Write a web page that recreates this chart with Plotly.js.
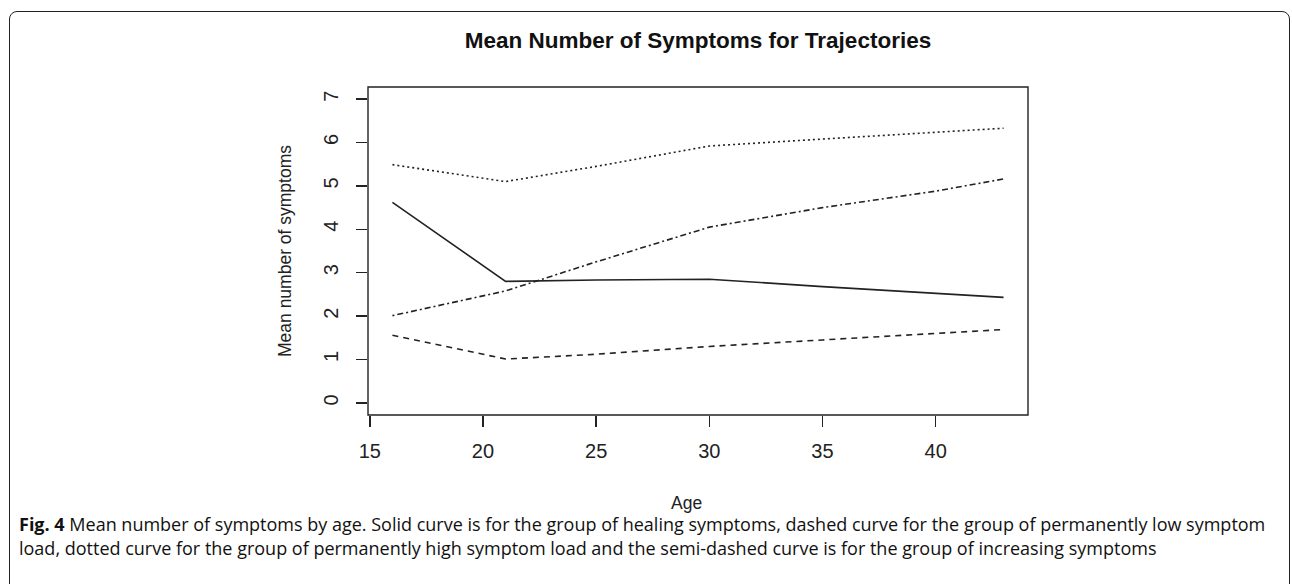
<!DOCTYPE html>
<html>
<head>
<meta charset="utf-8">
<script src="https://cdn.plot.ly/plotly-3.0.1.min.js"></script>
<style>
  html, body { margin: 0; padding: 0; background: #fff; }
  #wrap { position: relative; width: 1292px; height: 584px; overflow: hidden; }
  #chart { width: 1292px; height: 584px; }
  #frame { position: absolute; left: 9px; top: 11px; width: 1281px; height: 640px;
           border: 1.8px solid #222; border-radius: 8px; pointer-events: none; box-sizing: border-box; }
</style>
</head>
<body>
<div id="wrap">
  <div id="chart"></div>
  <div id="frame"></div>
</div>
<script>
// Ages at which the curves were read
const ages = [16, 21, 25, 30, 35, 40, 43];
// Mean number of symptoms per trajectory group
const healing    = [4.62, 2.80, 2.83, 2.85, 2.68, 2.53, 2.43];   // solid
const lowLoad    = [1.56, 1.01, 1.12, 1.30, 1.45, 1.60, 1.69];   // dashed
const highLoad   = [5.49, 5.10, 5.45, 5.92, 6.08, 6.24, 6.33];   // dotted
const increasing = [2.01, 2.58, 3.25, 4.05, 4.50, 4.88, 5.16];   // semi-dashed
const xTicks = [15, 20, 25, 30, 35, 40];
const yTicks = [0, 1, 2, 3, 4, 5, 6, 7];

const titleText = 'Mean Number of Symptoms for Trajectories';
const xTitle = 'Age';
const yTitle = 'Mean number of symptoms';
const caption1 = '<b>Fig. 4</b> Mean number of symptoms by age. Solid curve is for the group of healing symptoms, dashed curve for the group of permanently low symptom';
const caption2 = 'load, dotted curve for the group of permanently high symptom load and the semi-dashed curve is for the group of increasing symptoms';

// plot area in pixels
const L = 368, R = 1028, T = 87, B = 415, W = 1292, H = 584;
const px = x => (x - L) / (R - L);
const py = y => (B - y) / (B - T);

const lineCol = '#222';
function tr(y, dash) {
  return { x: ages, y: y, type: 'scatter', mode: 'lines',
           line: { color: lineCol, width: 1.6, dash: dash }, hoverinfo: 'skip' };
}
const data = [
  tr(healing, 'solid'),
  tr(lowLoad, '6px,5px'),
  tr(highLoad, '2px,3px'),
  tr(increasing, '2px,3px,6px,3px')
];

const tickFont = { family: 'Liberation Sans, Arial, sans-serif', size: 20, color: '#222' };
const titleFont = { family: 'Liberation Sans, Arial, sans-serif', size: 17.5, color: '#222' };
const capFont = { family: 'Open Sans, Noto Sans, sans-serif', size: 18, color: '#111' };
const layout = {
  width: W, height: H,
  margin: { l: L, r: W - R, t: T, b: H - B, pad: 0 },
  paper_bgcolor: '#fff', plot_bgcolor: '#fff',
  showlegend: false,
  title: { text: '<b>' + titleText + '</b>', x: 0.5, xref: 'paper', y: 1 - 40 / H, yref: 'container',
           yanchor: 'middle', font: { family: 'Liberation Sans, Arial, sans-serif', size: 22.5, color: '#111' } },
  xaxis: { range: [14.92, 44.08], tickvals: xTicks, ticktext: xTicks.map(String),
           ticks: 'outside', ticklen: 11, tickwidth: 1.4, tickcolor: lineCol,
           showgrid: false, zeroline: false, showline: false, tickfont: tickFont,
           ticklabelstandoff: 7 },
  yaxis: { range: [-0.28, 7.28], tickvals: yTicks, ticktext: yTicks.map(String),
           ticks: 'outside', ticklen: 11, tickwidth: 1.4, tickcolor: lineCol, tickangle: -90,
           showgrid: false, zeroline: false, showline: false, tickfont: tickFont,
           ticklabelstandoff: 10 },
  shapes: [
    { type: 'rect', xref: 'paper', yref: 'paper', x0: 0, x1: 1, y0: 0, y1: 1,
      line: { color: lineCol, width: 1.4 }, fillcolor: 'rgba(0,0,0,0)' }
  ],
  annotations: [
    { text: xTitle, xref: 'paper', yref: 'paper', x: px(686), y: py(503), showarrow: false,
      xanchor: 'center', yanchor: 'middle', font: titleFont },
    { text: yTitle, xref: 'paper', yref: 'paper', x: px(285), y: py(251), showarrow: false,
      textangle: -90, xanchor: 'center', yanchor: 'middle', font: titleFont },
    { text: caption1, xref: 'paper', yref: 'paper', x: px(17), y: py(524), showarrow: false,
      xanchor: 'left', yanchor: 'middle', align: 'left', font: capFont },
    { text: caption2, xref: 'paper', yref: 'paper', x: px(17), y: py(548), showarrow: false,
      xanchor: 'left', yanchor: 'middle', align: 'left', font: capFont }
  ]
};
Plotly.newPlot('chart', data, layout, { staticPlot: true, displayModeBar: false });
</script>
</body>
</html>
